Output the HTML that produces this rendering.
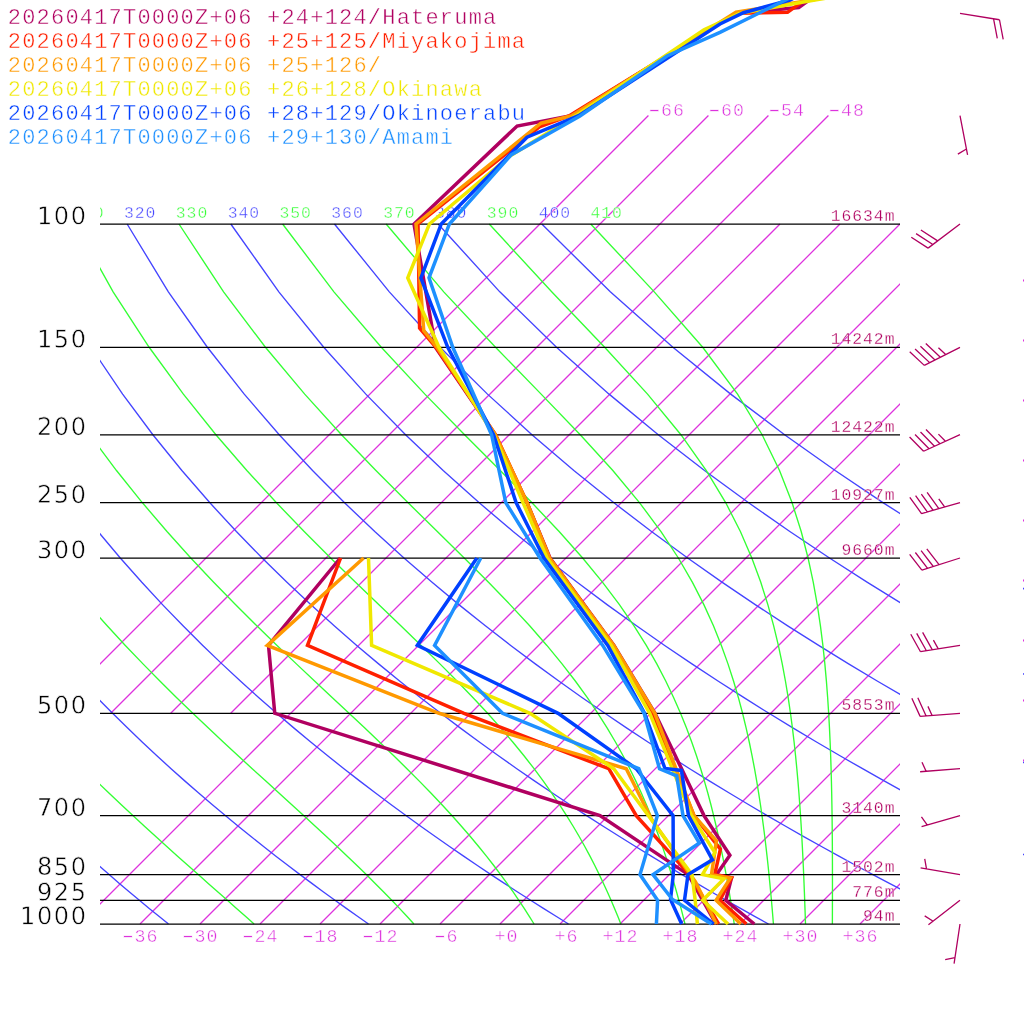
<!DOCTYPE html>
<html lang="en">
<head>
<meta charset="utf-8">
<title>Emagram 20260417T0000Z+06</title>
<style>
html,body{margin:0;padding:0;background:#fff}
body{width:1024px;height:1024px;overflow:hidden}
svg{display:block}
text{font-family:"Liberation Mono","DejaVu Sans Mono",monospace;stroke:#fff;stroke-width:.45px}
.iso{fill:none;stroke:#dd33dd;stroke-width:1.3}
.dry{fill:none;stroke:#4444ff;stroke-width:1.35}
.moist{fill:none;stroke:#33ff33;stroke-width:1.35}
.pl{fill:none;stroke:#000;stroke-width:1.3}
.tb{fill:#4444ff;font-size:16.4px;stroke-width:.4px}
.tg{fill:#33ff33;font-size:16.4px;stroke-width:.4px}
.pr{fill:#000;font-family:"DejaVu Sans","Liberation Sans",sans-serif;font-size:24px;text-anchor:end;letter-spacing:1.63px;stroke-width:.55px}
.ht{fill:#b00060;font-size:16.4px;stroke-width:.28px}
.il{fill:#dd33dd;font-size:18.3px;stroke-width:.45px}
.ti{font-size:22px}
.s{fill:none;stroke-width:3.5;stroke-linejoin:miter}
.wb{fill:none;stroke:#b00060;stroke-width:1.3}
</style>
</head>
<body>
<svg width="1024" height="1024" viewBox="0 0 1024 1024">
<rect x="0" y="0" width="1024" height="1024" fill="#fff"/>
<path class="iso" d="M80 924L780 224M140 924L840 224M200 924L900 224M260 924L960 224M320 924L1020 224M380 924L1080 224M440 924L1140 224M500 924L1200 224M560 924L1260 224M620 924L1320 224M680 924L1380 224M740 924L1440 224M800 924L1500 224M860 924L1560 224M50.72 713.28L648.43 115.57M110.72 713.28L708.43 115.57M170.72 713.28L768.43 115.57M230.72 713.28L828.43 115.57"/>
<path class="dry" d="M168.5 924L158.92 916.3L149.22 908.41L139.39 900.3L129.44 891.97L119.35 883.41L109.13 874.59L98.77 865.52L88.26 856.16L77.6 846.51L66.78 836.54L55.8 826.24L44.65 815.57L33.32 804.51L21.81 793.04L10.11 781.12L-1.79 768.71L-13.9 755.77L-26.22 742.25L-38.76 728.11L-51.55 713.28L-64.57 697.69L-77.85 681.25L-91.39 663.87L-105.21 645.44L-119.31 625.82L-133.71 604.85L-148.4 582.32L-163.4 557.98L-178.69 531.53L-194.27 502.56L-210.11 470.53L-226.13 434.72L-242.23 394.13L-258.18 347.26L-273.56 291.84L-287.53 224M368.5 924L357.48 916.3L346.31 908.41L334.99 900.3L323.51 891.97L311.87 883.41L300.07 874.59L288.08 865.52L275.92 856.16L263.56 846.51L251.01 836.54L238.26 826.24L225.29 815.57L212.1 804.51L198.67 793.04L185 781.12L171.08 768.71L156.88 755.77L142.41 742.25L127.64 728.11L112.56 713.28L97.15 697.69L81.39 681.25L65.27 663.87L48.77 645.44L31.86 625.82L14.51 604.85L-3.28 582.32L-21.56 557.98L-40.33 531.53L-59.63 502.56L-79.45 470.53L-99.79 434.72L-120.61 394.13L-141.8 347.26L-163.08 291.84L-183.86 224M568.5 924L556.04 916.3L543.4 908.41L530.59 900.3L517.59 891.97L504.39 883.41L491 874.59L477.4 865.52L463.58 856.16L449.53 846.51L435.25 836.54L420.72 826.24L405.93 815.57L390.87 804.51L375.53 793.04L359.9 781.12L343.94 768.71L327.66 755.77L311.04 742.25L294.04 728.11L276.66 713.28L258.87 697.69L240.64 681.25L221.94 663.87L202.75 645.44L183.02 625.82L162.73 604.85L141.83 582.32L120.28 557.98L98.03 531.53L75.02 502.56L51.21 470.53L26.55 434.72L1.01 394.13L-25.41 347.26L-52.6 291.84L-80.2 224M768.5 924L754.6 916.3L740.5 908.41L726.19 900.3L711.66 891.97L696.92 883.41L681.94 874.59L666.71 865.52L651.24 856.16L635.5 846.51L619.48 836.54L603.18 826.24L586.58 815.57L569.65 804.51L552.4 793.04L534.79 781.12L516.81 768.71L498.45 755.77L479.67 742.25L460.45 728.11L440.76 713.28L420.58 697.69L399.88 681.25L378.6 663.87L356.72 645.44L334.19 625.82L310.95 604.85L286.95 582.32L262.12 557.98L236.39 531.53L209.67 502.56L181.87 470.53L152.89 434.72L122.62 394.13L90.97 347.26L57.88 291.84L23.47 224M968.5 924L953.16 916.3L937.59 908.41L921.79 900.3L905.74 891.97L889.44 883.41L872.87 874.59L856.03 865.52L838.9 856.16L821.47 846.51L803.72 836.54L785.64 826.24L767.22 815.57L748.43 804.51L729.26 793.04L709.68 781.12L689.68 768.71L669.23 755.77L648.29 742.25L626.85 728.11L604.87 713.28L582.3 697.69L559.12 681.25L535.27 663.87L510.7 645.44L485.36 625.82L459.17 604.85L432.07 582.32L403.96 557.98L374.75 531.53L344.32 502.56L312.53 470.53L279.23 434.72L244.24 394.13L207.35 347.26L168.36 291.84L127.13 224M1168.5 924L1151.72 916.3L1134.68 908.41L1117.39 900.3L1099.81 891.97L1081.96 883.41L1063.81 874.59L1045.34 865.52L1026.56 856.16L1007.43 846.51L987.95 836.54L968.1 826.24L947.86 815.57L927.21 804.51L906.12 793.04L884.58 781.12L862.55 768.71L840.01 755.77L816.92 742.25L793.25 728.11L768.97 713.28L744.02 697.69L718.36 681.25L691.93 663.87L664.68 645.44L636.53 625.82L607.39 604.85L577.19 582.32L545.8 557.98L513.11 531.53L478.97 502.56L443.19 470.53L405.57 434.72L365.86 394.13L323.73 347.26L278.84 291.84L230.8 224M1368.5 924L1350.28 916.3L1331.78 908.41L1312.98 900.3L1293.89 891.97L1274.48 883.41L1254.74 874.59L1234.66 865.52L1214.22 856.16L1193.4 846.51L1172.19 836.54L1150.56 826.24L1128.5 815.57L1105.99 804.51L1082.98 793.04L1059.47 781.12L1035.42 768.71L1010.79 755.77L985.55 742.25L959.66 728.11L933.07 713.28L905.74 697.69L877.6 681.25L848.6 663.87L818.66 645.44L787.69 625.82L755.61 604.85L722.31 582.32L687.64 557.98L651.48 531.53L613.62 502.56L573.85 470.53L531.92 434.72L487.47 394.13L440.12 347.26L389.32 291.84L334.46 224M1568.5 924L1548.84 916.3L1528.87 908.41L1508.58 900.3L1487.97 891.97L1467 883.41L1445.68 874.59L1423.97 865.52L1401.88 856.16L1379.37 846.51L1356.42 836.54L1333.03 826.24L1309.15 815.57L1284.76 804.51L1259.85 793.04L1234.36 781.12L1208.28 768.71L1181.57 755.77L1154.18 742.25L1126.06 728.11L1097.17 713.28L1067.46 697.69L1036.84 681.25L1005.26 663.87L972.63 645.44L938.86 625.82L903.83 604.85L867.43 582.32L829.49 557.98L789.84 531.53L748.27 502.56L704.51 470.53L658.26 434.72L609.09 394.13L556.5 347.26L499.8 291.84L438.13 224M1768.5 924L1747.4 916.3L1725.96 908.41L1704.18 900.3L1682.04 891.97L1659.52 883.41L1636.61 874.59L1613.29 865.52L1589.54 856.16L1565.34 846.51L1540.66 836.54L1515.49 826.24L1489.79 815.57L1463.54 804.51L1436.71 793.04L1409.26 781.12L1381.15 768.71L1352.35 755.77L1322.8 742.25L1292.47 728.11L1261.28 713.28L1229.17 697.69L1196.09 681.25L1161.93 663.87L1126.61 645.44L1090.03 625.82L1052.05 604.85L1012.54 582.32L971.33 557.98L928.2 531.53L882.92 502.56L835.17 470.53L784.6 434.72L730.71 394.13L672.88 347.26L610.29 291.84L541.79 224"/>
<path class="moist" d="M254.1 924L245.45 916.3L236.54 908.41L227.37 900.3L217.94 891.97L208.24 883.41L198.28 874.59L188.05 865.52L177.56 856.16L166.79 846.51L155.76 836.54L144.46 826.24L132.88 815.57L121.04 804.51L108.92 793.04L96.52 781.12L83.85 768.71L70.9 755.77L57.65 742.25L44.12 728.11L30.28 713.28L16.13 697.69L1.67 681.25L-13.13 663.87L-28.26 645.44L-43.75 625.82L-59.61 604.85L-75.85 582.32L-92.48 557.98L-109.51 531.53L-126.95 502.56L-144.78 470.53L-162.96 434.72L-181.42 394.13L-199.99 347.26L-218.32 291.84L-235.69 224M413.9 924L406.87 916.3L399.5 908.41L391.78 900.3L383.69 891.97L375.2 883.41L366.32 874.59L357 865.52L347.26 856.16L337.06 846.51L326.39 836.54L315.26 826.24L303.64 815.57L291.53 804.51L278.93 793.04L265.82 781.12L252.22 768.71L238.12 755.77L223.51 742.25L208.41 728.11L192.81 713.28L176.7 697.69L160.1 681.25L142.98 663.87L125.34 645.44L107.18 625.82L88.46 604.85L69.18 582.32L49.31 557.98L28.82 531.53L7.69 502.56L-14.12 470.53L-36.62 434.72L-59.8 394.13L-83.6 347.26L-107.84 291.84L-132.03 224M534.08 924L529.29 916.3L524.21 908.41L518.83 900.3L513.13 891.97L507.07 883.41L500.62 874.59L493.76 865.52L486.44 856.16L478.64 846.51L470.31 836.54L461.42 826.24L451.91 815.57L441.75 804.51L430.89 793.04L419.3 781.12L406.93 768.71L393.75 755.77L379.72 742.25L364.83 728.11L349.06 713.28L332.39 697.69L314.83 681.25L296.37 663.87L277.02 645.44L256.79 625.82L235.68 604.85L213.68 582.32L190.79 557.98L166.99 531.53L142.24 502.56L116.5 470.53L89.7 434.72L61.81 394.13L32.78 347.26L2.64 291.84L-28.36 224M620.86 924L617.79 916.3L614.54 908.41L611.08 900.3L607.4 891.97L603.48 883.41L599.28 874.59L594.79 865.52L589.97 856.16L584.78 846.51L579.18 836.54L573.14 826.24L566.58 815.57L559.47 804.51L551.73 793.04L543.3 781.12L534.08 768.71L524 755.77L512.96 742.25L500.86 728.11L487.61 713.28L473.09 697.69L457.22 681.25L439.93 663.87L421.14 645.44L400.82 625.82L378.95 604.85L355.54 582.32L330.61 557.98L304.18 531.53L276.26 502.56L246.85 470.53L215.92 434.72L183.38 394.13L149.15 347.26L113.12 291.84L75.3 224M684.98 924L683.07 916.3L681.04 908.41L678.88 900.3L676.58 891.97L674.13 883.41L671.51 874.59L668.69 865.52L665.67 856.16L662.4 846.51L658.87 836.54L655.04 826.24L650.87 815.57L646.32 804.51L641.33 793.04L635.84 781.12L629.78 768.71L623.06 755.77L615.59 742.25L607.24 728.11L597.88 713.28L587.35 697.69L575.48 681.25L562.05 663.87L546.86 645.44L529.67 625.82L510.28 604.85L488.5 582.32L464.2 557.98L437.32 531.53L407.87 502.56L375.92 470.53L341.52 434.72L304.71 394.13L265.44 347.26L223.58 291.84L178.96 224M734.24 924L733.09 916.3L731.87 908.41L730.57 900.3L729.19 891.97L727.72 883.41L726.14 874.59L724.44 865.52L722.62 856.16L720.64 846.51L718.51 836.54L716.18 826.24L713.64 815.57L710.86 804.51L707.8 793.04L704.42 781.12L700.67 768.71L696.49 755.77L691.8 742.25L686.51 728.11L680.52 713.28L673.69 697.69L665.85 681.25L656.8 663.87L646.29 645.44L634.01 625.82L619.6 604.85L602.63 582.32L582.63 557.98L559.14 531.53L531.77 502.56L500.27 470.53L464.6 434.72L424.89 394.13L381.31 347.26L333.93 291.84L282.6 224M773.42 924L772.8 916.3L772.13 908.41L771.43 900.3L770.67 891.97L769.86 883.41L768.99 874.59L768.06 865.52L767.04 856.16L765.94 846.51L764.75 836.54L763.44 826.24L762 815.57L760.42 804.51L758.66 793.04L756.71 781.12L754.53 768.71L752.08 755.77L749.31 742.25L746.16 728.11L742.56 713.28L738.41 697.69L733.6 681.25L727.98 663.87L721.35 645.44L713.45 625.82L703.96 604.85L692.46 582.32L678.37 557.98L660.99 531.53L639.46 502.56L612.83 470.53L580.23 434.72L541.13 394.13L495.52 347.26L443.75 291.84L386.14 224M805.51 924L805.25 916.3L804.98 908.41L804.69 900.3L804.38 891.97L804.04 883.41L803.67 874.59L803.27 865.52L802.83 856.16L802.34 846.51L801.79 836.54L801.19 826.24L800.52 815.57L799.76 804.51L798.91 793.04L797.94 781.12L796.84 768.71L795.57 755.77L794.12 742.25L792.44 728.11L790.48 713.28L788.19 697.69L785.47 681.25L782.25 663.87L778.37 645.44L773.67 625.82L767.92 604.85L760.78 582.32L751.81 557.98L740.39 531.53L725.64 502.56L706.35 470.53L680.93 434.72L647.55 394.13L604.65 347.26L551.67 291.84L489.22 224M832.38 924L832.4 916.3L832.42 908.41L832.44 900.3L832.45 891.97L832.46 883.41L832.45 874.59L832.44 865.52L832.41 856.16L832.36 846.51L832.29 836.54L832.19 826.24L832.07 815.57L831.9 804.51L831.69 793.04L831.42 781.12L831.08 768.71L830.66 755.77L830.13 742.25L829.48 728.11L828.67 713.28L827.66 697.69L826.41 681.25L824.85 663.87L822.89 645.44L820.43 625.82L817.29 604.85L813.28 582.32L808.06 557.98L801.2 531.53L792.02 502.56L779.51 470.53L762.14 434.72L737.58 394.13L702.7 347.26L654.24 291.84L590.7 224"/>
<text class="tg" x="72.18" y="218" style="letter-spacing:0.96px">310</text>
<text class="tb" x="124.01" y="218" style="letter-spacing:0.96px">320</text>
<text class="tg" x="175.84" y="218" style="letter-spacing:0.96px">330</text>
<text class="tb" x="227.68" y="218" style="letter-spacing:0.96px">340</text>
<text class="tg" x="279.51" y="218" style="letter-spacing:0.96px">350</text>
<text class="tb" x="331.34" y="218" style="letter-spacing:0.96px">360</text>
<text class="tg" x="383.17" y="218" style="letter-spacing:0.96px">370</text>
<text class="tb" x="435.01" y="218" style="letter-spacing:0.96px">380</text>
<text class="tg" x="486.84" y="218" style="letter-spacing:0.96px">390</text>
<text class="tb" x="538.67" y="218" style="letter-spacing:0.96px">400</text>
<text class="tg" x="590.5" y="218" style="letter-spacing:0.96px">410</text>
<rect x="0" y="0" width="100" height="1024" fill="#fff"/>
<rect x="900" y="0" width="123" height="1024" fill="#fff"/>
<path class="pl" d="M100 224.1H900M100 347.36H900M100 434.82H900M100 502.66H900M100 558.08H900M100 713.38H900M100 815.67H900M100 874.69H900M100 900.4H900M100 924.1H900"/>
<text class="pr" transform="translate(87.6 224.35) rotate(.1) scale(1 1.02)">100</text>
<text class="ht" x="830.68" y="221" style="letter-spacing:0.96px">16634m</text>
<text class="pr" transform="translate(87.6 347.61) rotate(.1) scale(1 1.02)">150</text>
<text class="ht" x="830.68" y="344" style="letter-spacing:0.96px">14242m</text>
<text class="pr" transform="translate(87.6 435.07) rotate(.1) scale(1 1.02)">200</text>
<text class="ht" x="830.68" y="432" style="letter-spacing:0.96px">12422m</text>
<text class="pr" transform="translate(87.6 502.91) rotate(.1) scale(1 1.02)">250</text>
<text class="ht" x="830.68" y="500" style="letter-spacing:0.96px">10927m</text>
<text class="pr" transform="translate(87.6 558.33) rotate(.1) scale(1 1.02)">300</text>
<text class="ht" x="841.48" y="555" style="letter-spacing:0.96px">9660m</text>
<text class="pr" transform="translate(87.6 713.63) rotate(.1) scale(1 1.02)">500</text>
<text class="ht" x="841.48" y="710" style="letter-spacing:0.96px">5853m</text>
<text class="pr" transform="translate(87.6 815.92) rotate(.1) scale(1 1.02)">700</text>
<text class="ht" x="841.48" y="813" style="letter-spacing:0.96px">3140m</text>
<text class="pr" transform="translate(87.6 874.94) rotate(.1) scale(1 1.02)">850</text>
<text class="ht" x="841.48" y="872" style="letter-spacing:0.96px">1502m</text>
<text class="pr" transform="translate(87.6 900.65) rotate(.1) scale(1 1.02)">925</text>
<text class="ht" x="852.28" y="897" style="letter-spacing:0.96px">776m</text>
<text class="pr" transform="translate(87.6 924.35) rotate(.1) scale(1 1.02)">1000</text>
<text class="ht" x="863.08" y="921" style="letter-spacing:0.96px">94m</text>
<text class="il" y="942.2"><tspan x="118.12" textLength="19.76" lengthAdjust="spacingAndGlyphs">-</tspan><tspan x="134.51" style="letter-spacing:1.02px">36</tspan></text>
<text class="il" y="942.2"><tspan x="178.12" textLength="19.76" lengthAdjust="spacingAndGlyphs">-</tspan><tspan x="194.51" style="letter-spacing:1.02px">30</tspan></text>
<text class="il" y="942.2"><tspan x="238.12" textLength="19.76" lengthAdjust="spacingAndGlyphs">-</tspan><tspan x="254.51" style="letter-spacing:1.02px">24</tspan></text>
<text class="il" y="942.2"><tspan x="298.12" textLength="19.76" lengthAdjust="spacingAndGlyphs">-</tspan><tspan x="314.51" style="letter-spacing:1.02px">18</tspan></text>
<text class="il" y="942.2"><tspan x="358.12" textLength="19.76" lengthAdjust="spacingAndGlyphs">-</tspan><tspan x="374.51" style="letter-spacing:1.02px">12</tspan></text>
<text class="il" y="942.2"><tspan x="430.12" textLength="19.76" lengthAdjust="spacingAndGlyphs">-</tspan><tspan x="446.51" style="letter-spacing:1.02px">6</tspan></text>
<text class="il" x="494.51" y="942.2" style="letter-spacing:1.02px">+0</text>
<text class="il" x="554.51" y="942.2" style="letter-spacing:1.02px">+6</text>
<text class="il" x="602.51" y="942.2" style="letter-spacing:1.02px">+12</text>
<text class="il" x="662.51" y="942.2" style="letter-spacing:1.02px">+18</text>
<text class="il" x="722.51" y="942.2" style="letter-spacing:1.02px">+24</text>
<text class="il" x="782.51" y="942.2" style="letter-spacing:1.02px">+30</text>
<text class="il" x="842.51" y="942.2" style="letter-spacing:1.02px">+36</text>
<text class="il" y="115.97"><tspan x="644.55" textLength="19.76" lengthAdjust="spacingAndGlyphs">-</tspan><tspan x="660.94" style="letter-spacing:1.02px">66</tspan></text>
<text class="il" y="115.97"><tspan x="704.55" textLength="19.76" lengthAdjust="spacingAndGlyphs">-</tspan><tspan x="720.94" style="letter-spacing:1.02px">60</tspan></text>
<text class="il" y="115.97"><tspan x="764.55" textLength="19.76" lengthAdjust="spacingAndGlyphs">-</tspan><tspan x="780.94" style="letter-spacing:1.02px">54</tspan></text>
<text class="il" y="115.97"><tspan x="824.55" textLength="19.76" lengthAdjust="spacingAndGlyphs">-</tspan><tspan x="840.94" style="letter-spacing:1.02px">48</tspan></text>
<path class="s" stroke="#b00060" d="M340.3 558L268.5 645.4L274.75 713.3L600 815.6L688.3 874.6L716 924"/>
<path class="s" stroke="#b00060" d="M812 -2L798.75 7.5L736 13.3L571 115.6L517.1 126L414 224L435.5 347.3L495 434.7L527 502.6L550 558L614 645.4L655 713.3L704 815.6L729.9 855.25L716.5 874.6L731.5 877.8L725.8 900.3L754.3 924"/>
<path class="s" stroke="#ff2000" d="M340.6 558L307.5 645.4L464 713.3L608.75 768.7L636.25 815.6L690 875L718.6 924"/>
<path class="s" stroke="#ff2000" d="M806 -1L787.5 12.3L736 13.3L569.8 115.6L540 126.5L418 224L419.6 328L436 347.3L495.5 434.7L527 502.6L549.5 558L613.5 645.4L652.5 713.3L694 815.6L720.4 849.2L714.7 874.6L731.6 877.8L719.9 900.3L746.4 924"/>
<path class="s" stroke="#ff9900" d="M363.6 558L267.25 645.4L439 713.3L626.25 768.7L652 820L695.5 882L716.4 924"/>
<path class="s" stroke="#ff9900" d="M815 -0.5L736 12.2L572 115.6L541 123.2L416 224L423.75 330.6L437 347.3L495.25 434.7L527 502.6L549.5 558L613.7 645.4L654.75 713.3L694 815.6L716.4 840.75L711.5 874.6L730.3 878.1L716.1 900.3L740.8 924"/>
<path class="s" stroke="#f0e800" d="M368.5 558L371.6 645.4L530 713.3L613.75 768.7L692 874.6L695.2 900.3L697.4 924"/>
<path class="s" stroke="#f0e800" d="M830 -2.5L809 1L739 13.6L704 29.8L576 115.6L510 156L429.4 224L407.75 277.9L439 347.3L494 434.7L523 502.6L547 558L611.2 645.4L649.75 713.3L691.5 815.6L714.9 852.6L702.5 874.6L723.8 878.9L702.7 900.3L728 924"/>
<path class="s" stroke="#0040ff" d="M476.9 558L417.3 645.4L558.1 713.3L636.25 768.7L673.1 815.6L673.3 874.6L670.5 899.5L681.7 924"/>
<path class="s" stroke="#0040ff" d="M800 -5L790 0L743.4 12.7L720 24L578.6 115.6L527 137.25L441.25 224L420.9 277.9L447.75 347.3L493.6 434.7L516.1 502.6L544 558L607.75 645.4L644.5 713.3L665 768.5L681.4 770.4L688.5 815.6L712.5 859.8L688 874.6L684.5 900.3L713.6 924"/>
<path class="s" stroke="#1e90ff" d="M480.8 558L434.6 645.4L502.5 713.3L638.75 768.7L657.4 815.6L640 874.6L657.6 900.3L656.4 924"/>
<path class="s" stroke="#1e90ff" d="M795 -5L785.6 0L720 32.3L667 56L580 116L511 155L449.4 224L429 277.9L452.75 347.3L491.6 434.7L505.75 502.6L540 558L602.75 645.4L644.1 713.3L659.5 768.8L676.7 775.8L683 815.6L699.4 843L653 874.6L672.5 899.5L711.4 924"/>
<path class="wb" d="M960 13.3L999.48 19.75M999.48 19.75L1003.2 39.4M993.56 18.78L997.28 38.43"/>
<path class="wb" d="M960 115.6L967.57 154.88M966.44 148.99L957.86 154.12"/>
<path class="wb" d="M960 224L928.09 248.12M928.09 248.12L911.3 237.25M932.88 244.5L916.09 233.63M937.66 240.88L920.87 230.02"/>
<path class="wb" d="M960 347.3L924.3 365.35M924.3 365.35L909.72 351.66M929.66 362.64L915.07 348.96M935.01 359.93L920.43 346.25M940.37 357.23L925.78 343.54M945.72 354.52L938.43 347.68"/>
<path class="wb" d="M960 434.7L923.57 451.22M923.57 451.22L909.58 436.93M929.03 448.74L915.04 434.45M934.5 446.26L920.51 431.97M939.96 443.79L925.97 429.49M945.43 441.31L938.43 434.16"/>
<path class="wb" d="M960 502.6L921.52 513.52M921.52 513.52L909.81 497.31M927.29 511.88L915.58 495.67M933.06 510.25L921.35 494.03M938.84 508.61L927.12 492.4M944.61 506.97L938.75 498.86"/>
<path class="wb" d="M960 558L921.89 570.16M921.89 570.16L909.66 554.33M927.61 568.33L915.38 552.51M933.32 566.51L921.1 550.68M939.04 564.69L926.81 548.86"/>
<path class="wb" d="M960 645.4L920.5 651.73M920.5 651.73L910.77 634.26M926.43 650.78L916.7 633.31M932.35 649.83L922.62 632.36M938.28 648.88L933.41 640.15"/>
<path class="wb" d="M960 713.3L920.12 716.39M920.12 716.39L911.85 698.18M926.1 715.93L917.83 697.72M932.08 715.46L927.95 706.36"/>
<path class="wb" d="M960 768.7L920.12 771.75M926.1 771.29L921.97 762.18"/>
<path class="wb" d="M960 815.6L921.57 826.7M927.34 825.04L921.44 816.96"/>
<path class="wb" d="M960 874.6L920.59 867.78M926.5 868.8L924.73 858.96"/>
<path class="wb" d="M960 900.3L928.43 924.86M933.16 921.18L924.69 915.86"/>
<path class="wb" d="M960 924L954.09 963.56M954.98 957.63L945.18 959.62"/>
<text class="ti" x="7.8" y="24" style="letter-spacing:1.2px" fill="#b00060">20260417T0000Z+06 +24+124/Hateruma</text>
<text class="ti" x="7.8" y="48" style="letter-spacing:1.2px" fill="#ff2000">20260417T0000Z+06 +25+125/Miyakojima</text>
<text class="ti" x="7.8" y="72" style="letter-spacing:1.2px" fill="#ff9900">20260417T0000Z+06 +25+126/</text>
<text class="ti" x="7.8" y="96" style="letter-spacing:1.2px" fill="#f0e800">20260417T0000Z+06 +26+128/Okinawa</text>
<text class="ti" x="7.8" y="120" style="letter-spacing:1.2px" fill="#0040ff">20260417T0000Z+06 +28+129/Okinoerabu</text>
<text class="ti" x="7.8" y="144" style="letter-spacing:1.2px" fill="#1e90ff">20260417T0000Z+06 +29+130/Amami</text>
</svg>
</body>
</html>
